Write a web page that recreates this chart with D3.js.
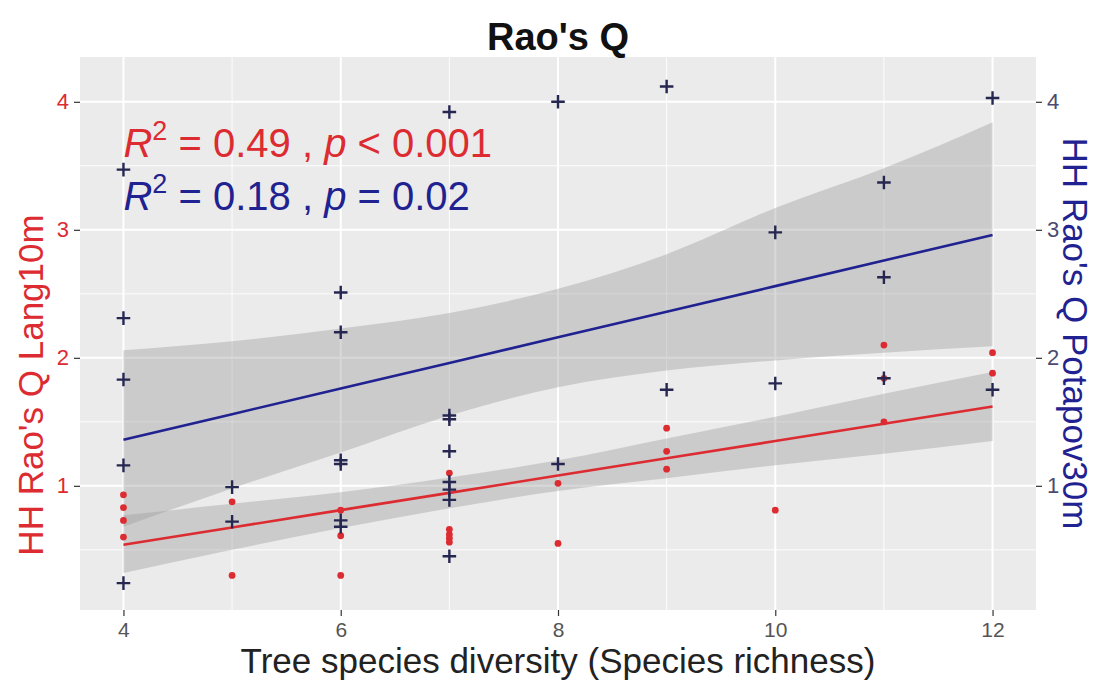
<!DOCTYPE html>
<html>
<head>
<meta charset="utf-8">
<script src="https://cdn.jsdelivr.net/npm/d3@7"></script>
<style>
  body { margin: 0; background: #fff; }
  text { font-family: "Liberation Sans", Arial, sans-serif; }
</style>
</head>
<body>
<svg id="chart" width="1094" height="686"></svg>
<script>
// Lang10m (red dots)
const langX = [4, 4, 4, 4, 5, 5, 6, 6, 6, 7, 7, 7, 7, 7, 8, 8, 9, 9, 9, 10, 11, 11, 11, 12, 12];
const langY = [0.93, 0.83, 0.73, 0.60, 0.875, 0.30, 0.81, 0.61, 0.30, 1.10, 0.66, 0.62, 0.59, 0.56, 1.02, 0.55, 1.45, 1.27, 1.13, 0.81, 2.10, 1.84, 1.50, 2.04, 1.88];

// Potapov30m (navy crosses)
const potX = [4, 4, 4, 4, 4, 5, 5, 6, 6, 6, 6, 6, 6, 7, 7, 7, 7, 7, 7, 7, 7, 8, 8, 9, 9, 10, 10, 11, 11, 11, 12, 12];
const potY = [3.47, 2.31, 1.83, 1.16, 0.24, 0.99, 0.72, 2.51, 2.20, 1.20, 1.17, 0.73, 0.68, 3.92, 1.55, 1.52, 1.27, 1.03, 0.97, 0.89, 0.45, 4.00, 1.17, 4.12, 1.75, 2.98, 1.80, 3.37, 2.63, 1.84, 4.03, 1.75];

// fitted lines and confidence bands
const bandX = [4, 5, 6, 7, 8, 9, 10, 11, 12];
const langFit = [0.54, 0.675, 0.81, 0.945, 1.08, 1.215, 1.35, 1.485, 1.62];
const langHi  = [0.77, 0.86, 0.95, 1.065, 1.20, 1.37, 1.54, 1.72, 1.89];
const langLo  = [0.32, 0.50, 0.67, 0.825, 0.96, 1.06, 1.16, 1.25, 1.35];
const potFit = [1.36, 1.56, 1.76, 1.96, 2.16, 2.36, 2.56, 2.76, 2.96];
const potHi  = [2.06, 2.13, 2.23, 2.35, 2.54, 2.81, 3.17, 3.48, 3.84];
const potLo  = [0.68, 0.98, 1.26, 1.55, 1.77, 1.90, 1.98, 2.04, 2.09];

const xTicks = [4, 6, 8, 10, 12];
const xMinor = [5, 7, 9, 11];
const yTicks = [1, 2, 3, 4];
const yMinor = [0.5, 1.5, 2.5, 3.5];

const red = "#dc2b31";
const navy = "#1f2290";
const crossCol = "#262750";

const svg = d3.select("#chart");
const pLeft = 80, pRight = 1036, pTop = 57, pBottom = 610;

const x = d3.scaleLinear().domain([3.6, 12.4]).range([pLeft, pRight]);
const y = d3.scaleLinear().domain([0.03, 4.35]).range([pBottom, pTop]);

// panel
svg.append("rect")
  .attr("x", pLeft).attr("y", pTop)
  .attr("width", pRight - pLeft).attr("height", pBottom - pTop)
  .attr("fill", "#ebebeb");

const grid = svg.append("g").attr("stroke", "#fff");
grid.selectAll(".ym").data(yMinor).enter().append("line")
  .attr("x1", pLeft).attr("x2", pRight)
  .attr("y1", d => y(d)).attr("y2", d => y(d))
  .attr("stroke-width", 0.9);
grid.selectAll(".xm").data(xMinor).enter().append("line")
  .attr("y1", pTop).attr("y2", pBottom)
  .attr("x1", d => x(d)).attr("x2", d => x(d))
  .attr("stroke-width", 0.9);
grid.selectAll(".yM").data(yTicks).enter().append("line")
  .attr("x1", pLeft).attr("x2", pRight)
  .attr("y1", d => y(d)).attr("y2", d => y(d))
  .attr("stroke-width", 2);
grid.selectAll(".xM").data(xTicks).enter().append("line")
  .attr("y1", pTop).attr("y2", pBottom)
  .attr("x1", d => x(d)).attr("x2", d => x(d))
  .attr("stroke-width", 2);

// bands
function band(hi, lo) {
  return d3.area()
    .x((d, i) => x(bandX[i]))
    .y0((d, i) => y(lo[i]))
    .y1((d, i) => y(hi[i]))
    .curve(d3.curveMonotoneX)(bandX);
}
svg.append("path").attr("d", band(potHi, potLo)).attr("fill", "#999").attr("opacity", 0.38);
svg.append("path").attr("d", band(langHi, langLo)).attr("fill", "#999").attr("opacity", 0.38);

// fit lines
const fitLine = (vals) => d3.line().x((d, i) => x(bandX[i])).y((d, i) => y(vals[i]))(bandX);
svg.append("path").attr("d", fitLine(potFit)).attr("fill", "none").attr("stroke", navy).attr("stroke-width", 2.6);
svg.append("path").attr("d", fitLine(langFit)).attr("fill", "none").attr("stroke", red).attr("stroke-width", 2.6);

// points
svg.append("g").selectAll("path").data(langX).enter().append("path")
  .attr("transform", (d, i) => `translate(${x(d)},${y(langY[i])})`)
  .attr("d", d3.symbol().type(d3.symbolCircle).size(36))
  .attr("fill", red);

svg.append("g").selectAll("path").data(potX).enter().append("path")
  .attr("transform", (d, i) => `translate(${x(d)},${y(potY[i])})`)
  .attr("d", d3.symbol().type(d3.symbolPlus).size(62))
  .attr("fill", "none")
  .attr("stroke", crossCol)
  .attr("stroke-width", 2.4);

// axes
const xAxis = svg.append("g")
  .attr("transform", `translate(0,${pBottom})`)
  .call(d3.axisBottom(x).tickValues(xTicks).tickSize(6).tickPadding(6).tickFormat(d3.format("d")));
xAxis.select(".domain").remove();
xAxis.selectAll("line").attr("stroke", "#333").attr("stroke-width", 1.2);
xAxis.selectAll("text").attr("fill", "#555").attr("font-size", 21);

const yAxisL = svg.append("g")
  .attr("transform", `translate(${pLeft},0)`)
  .call(d3.axisLeft(y).tickValues(yTicks).tickSize(6).tickPadding(5).tickFormat(d3.format("d")));
yAxisL.select(".domain").remove();
yAxisL.selectAll("line").attr("stroke", "#333").attr("stroke-width", 1.2);
yAxisL.selectAll("text").attr("fill", red).attr("font-size", 22);

const yAxisR = svg.append("g")
  .attr("transform", `translate(${pRight},0)`)
  .call(d3.axisRight(y).tickValues(yTicks).tickSize(6).tickPadding(5).tickFormat(d3.format("d")));
yAxisR.select(".domain").remove();
yAxisR.selectAll("line").attr("stroke", "#333").attr("stroke-width", 1.2);
yAxisR.selectAll("text").attr("fill", "#4b4b70").attr("font-size", 22);

// titles
svg.append("text")
  .attr("x", (pLeft + pRight) / 2).attr("y", 50)
  .attr("text-anchor", "middle")
  .attr("font-size", 38).attr("font-weight", "bold").attr("fill", "#111")
  .text("Rao's Q");

svg.append("text")
  .attr("x", (pLeft + pRight) / 2).attr("y", 673)
  .attr("text-anchor", "middle")
  .attr("font-size", 35).attr("fill", "#222")
  .text("Tree species diversity (Species richness)");

svg.append("text")
  .attr("transform", `translate(43,385) rotate(-90)`)
  .attr("text-anchor", "middle")
  .attr("font-size", 35).attr("fill", red)
  .text("HH Rao's Q Lang10m");

svg.append("text")
  .attr("transform", `translate(1063,${(pTop + pBottom) / 2}) rotate(90)`)
  .attr("text-anchor", "middle")
  .attr("font-size", 35).attr("fill", navy)
  .text("HH Rao's Q Potapov30m");

// stats annotations
function stat(yPos, color, r2, pPart) {
  const t = svg.append("text")
    .attr("x", x(4)).attr("y", yPos)
    .attr("font-size", 40).attr("fill", color);
  t.append("tspan").attr("font-style", "italic").text("R");
  t.append("tspan").attr("dy", -17).attr("font-size", 27).text("2");
  t.append("tspan").attr("dy", 17).text(` = ${r2} , `);
  t.append("tspan").attr("font-style", "italic").text("p");
  t.append("tspan").text(pPart);
}
stat(157, red, "0.49", " < 0.001");
stat(210, navy, "0.18", " = 0.02");
</script>
</body>
</html>
